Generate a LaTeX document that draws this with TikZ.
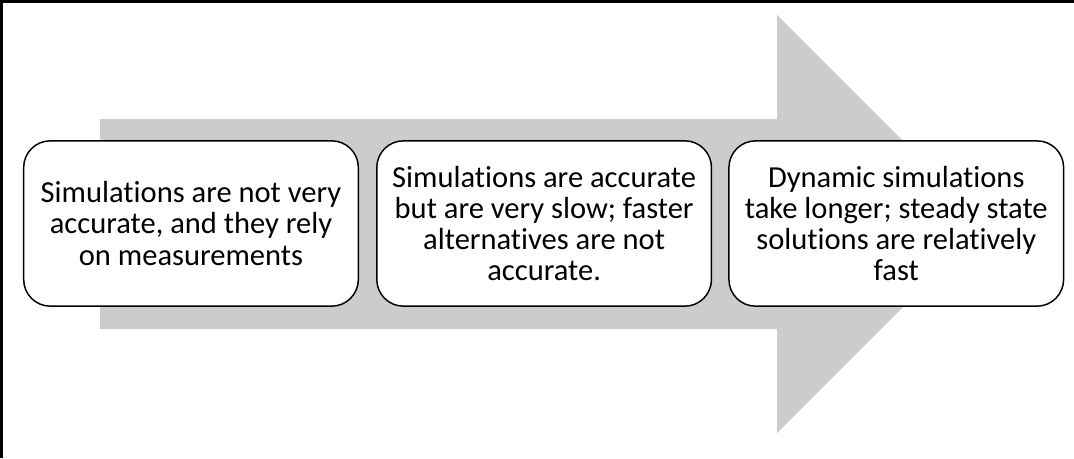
\documentclass[tikz,border=0pt]{standalone}
\usepackage{fontspec}
\setmainfont{Carlito}[Ligatures=NoCommon]
\usetikzlibrary{positioning}

\begin{document}
\begin{tikzpicture}[x=0.75pt,y=0.75pt,
  stagebox/.style={draw=black,line width=1.1pt,fill=white,rounded corners=20pt,
    minimum width=251pt,minimum height=124pt,align=center,inner sep=1pt,
    font=\fontsize{22.9}{23.4}\selectfont}]
\useasboundingbox (0,0) rectangle (1074,458);
\fill[white] (0,0) rectangle (1074,458);
% the frame (top and left only)
\fill[black] (0,455) rectangle (1074,458);
\fill[black] (0,0) rectangle (3,458);

% big grey arrow behind the boxes
\fill[black!20] (100,339) -- (777,339) -- (777,443) -- (986,234)
  -- (777,25) -- (777,129) -- (100,129) -- cycle;

% the three stages
\node[stagebox] (s1) at (191,234.5) {Simulations are not very\\accurate, and they rely\\on measurements};
\node[stagebox,right=12.75pt of s1] (s2) {Simulations are accurate\\but are very slow; faster\\alternatives are not\\accurate.};
\node[stagebox,right=12pt of s2] (s3) {Dynamic simulations\\take longer; steady state\\solutions are relatively\\fast};
\end{tikzpicture}
\end{document}
